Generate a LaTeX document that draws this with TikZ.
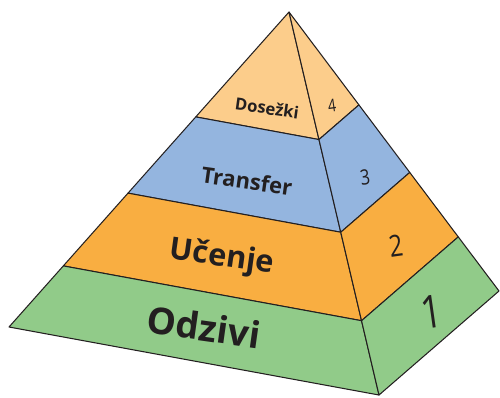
\documentclass[tikz,border=0pt]{standalone}
\usepackage{fontspec}
\setmainfont{Open Sans}
\usetikzlibrary{calc}

\definecolor{peach}{HTML}{FCCD8B}
\definecolor{skyblue}{HTML}{94B5DF}
\definecolor{amber}{HTML}{F9AE41}
\definecolor{leaf}{HTML}{91CB89}
\definecolor{ink}{HTML}{231F20}

\begin{document}
\begin{tikzpicture}[x=0.02cm, y=-0.02cm,
    face/.style={draw=ink, line width=0.6pt, line join=round},
    lbl/.style={font=\bfseries, text=ink, inner sep=0pt, rotate=-8},
    num/.style={text=ink, inner sep=0pt, rotate=8, xscale=0.8}]
    \useasboundingbox (0,0) rectangle (500,397);

    % corners of the pyramid
    \coordinate (top) at (289,12);
    \coordinate (bl) at (9,327);
    \coordinate (bf) at (379,395);
    \coordinate (br) at (499,291);

    % cuts between the levels
    \foreach \n/\t in {a/0.333, b/0.575, c/0.806} {
        \coordinate (l\n) at ($(top)!\t!(bl)$);
        \coordinate (f\n) at ($(top)!\t!(bf)$);
        \coordinate (r\n) at ($(top)!\t!(br)$);
    }

    % level 4
    \fill[peach, face] (top) -- (la) -- (fa) -- cycle;
    \fill[peach, face] (top) -- (fa) -- (ra) -- cycle;
    % level 3
    \fill[skyblue, face] (la) -- (fa) -- (fb) -- (lb) -- cycle;
    \fill[skyblue, face] (fa) -- (ra) -- (rb) -- (fb) -- cycle;
    % level 2
    \fill[amber, face] (lb) -- (fb) -- (fc) -- (lc) -- cycle;
    \fill[amber, face] (fb) -- (rb) -- (rc) -- (fc) -- cycle;
    % level 1
    \fill[leaf, face] (lc) -- (fc) -- (bf) -- (bl) -- cycle;
    \fill[leaf, face] (fc) -- (rc) -- (br) -- (bf) -- cycle;

    \node[lbl, font=\bfseries\fontsize{9.5}{10}\selectfont] (dos) at (267,108) {Dosežki};
    \node[lbl, font=\bfseries\fontsize{12.5}{13}\selectfont] (tra) at (247,181) {Transfer};
    \node[lbl, font=\bfseries\fontsize{17.5}{18}\selectfont] (uce) at (222,258) {Učenje};
    \node[lbl, font=\bfseries\fontsize{21}{22}\selectfont] (odz) at (204,327) {Odzivi};

    \node[num, font=\fontsize{10}{10}\selectfont] (n4) at (332,106) {4};
    \node[num, font=\fontsize{12}{12}\selectfont] (n3) at (365,177) {3};
    \node[num, font=\fontsize{17}{17}\selectfont] (n2) at (396,246) {2};
    \node[num, font=\fontsize{26}{26}\selectfont] (n1) at (432,312) {1};
\end{tikzpicture}
\end{document}
